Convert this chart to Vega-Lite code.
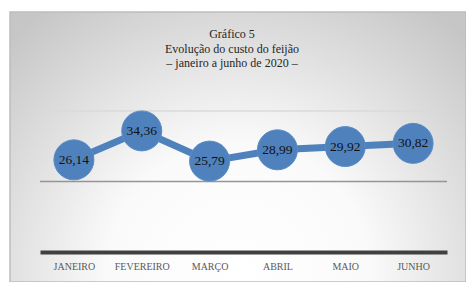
{
  "$schema": "https://vega.github.io/schema/vega-lite/v6.json",
  "width": 456,
  "height": 270,
  "autosize": {"type": "none"},
  "padding": {"left": 10, "top": 12, "right": 0, "bottom": 0},
  "background": "#ffffff",
  "config": {
    "view": {
      "fill": {
        "gradient": "radial",
        "x1": 0.5, "y1": 0.78, "r1": 0,
        "x2": 0.5, "y2": 0.78, "r2": 0.72,
        "stops": [
          {"offset": 0, "color": "#ffffff"},
          {"offset": 0.4, "color": "#fafafa"},
          {"offset": 1, "color": "#c6c6c6"}
        ]
      },
      "stroke": "#bdbdbd",
      "strokeWidth": 1.5
    },
    "font": "Liberation Serif"
  },
  "title": {
    "text": ["Gráfico 5", "Evolução do custo do feijão", "– janeiro a junho de 2020 –"],
    "font": "Liberation Serif",
    "fontSize": 12,
    "fontWeight": "normal",
    "color": "#262626",
    "lineHeight": 14.5,
    "anchor": "middle",
    "offset": -58,
    "dx": -6
  },
  "datasets": {
    "custo": [
      {"i": 0, "mes": "JANEIRO", "valor": 26.14, "rotulo": "26,14"},
      {"i": 1, "mes": "FEVEREIRO", "valor": 34.36, "rotulo": "34,36"},
      {"i": 2, "mes": "MARÇO", "valor": 25.79, "rotulo": "25,79"},
      {"i": 3, "mes": "ABRIL", "valor": 28.99, "rotulo": "28,99"},
      {"i": 4, "mes": "MAIO", "valor": 29.92, "rotulo": "29,92"},
      {"i": 5, "mes": "JUNHO", "valor": 30.82, "rotulo": "30,82"}
    ],
    "grade": [{"linha": 20}, {"linha": 40}]
  },
  "layer": [
    {
      "data": {"name": "grade"},
      "mark": {"type": "rule", "strokeWidth": 1.3},
      "encoding": {
        "y": {"field": "linha", "type": "quantitative", "scale": {"domain": [-8.51, 68.09], "nice": false, "zero": false}, "axis": null},
        "x": {"datum": -0.5, "type": "quantitative", "scale": {"domain": [-0.5, 5.5], "range": [30, 437], "nice": false, "zero": false}},
        "x2": {"datum": 5.5},
        "stroke": {"condition": {"test": "datum.linha == 20", "value": "#959595"}, "value": "#dadada"}
      }
    },
    {
      "data": {"name": "custo"},
      "mark": {"type": "line", "color": "#4F81BD", "strokeWidth": 7},
      "encoding": {
        "x": {
          "field": "i", "type": "quantitative",
          "axis": {
            "values": [0, 1, 2, 3, 4, 5],
            "labelExpr": "['JANEIRO','FEVEREIRO','MARÇO','ABRIL','MAIO','JUNHO'][datum.value]",
            "title": null,
            "offset": -30,
            "grid": false,
            "ticks": false,
            "tickSize": 0,
            "domainWidth": 4,
            "domainColor": "#404040",
            "labelFont": "Liberation Serif",
            "labelFontSize": 10,
            "labelColor": "#595959",
            "labelPadding": 9
          }
        },
        "y": {"field": "valor", "type": "quantitative"}
      }
    },
    {
      "data": {"name": "custo"},
      "mark": {"type": "circle", "size": 1600, "opacity": 1, "color": "#4F81BD", "stroke": "#5a8bc6", "strokeWidth": 1},
      "encoding": {
        "x": {"field": "i", "type": "quantitative"},
        "y": {"field": "valor", "type": "quantitative"}
      }
    },
    {
      "data": {"name": "custo"},
      "mark": {"type": "text", "font": "Liberation Serif", "fontSize": 13.5, "color": "#111111", "baseline": "middle", "align": "center"},
      "encoding": {
        "x": {"field": "i", "type": "quantitative"},
        "y": {"field": "valor", "type": "quantitative"},
        "text": {"field": "rotulo"}
      }
    }
  ]
}
